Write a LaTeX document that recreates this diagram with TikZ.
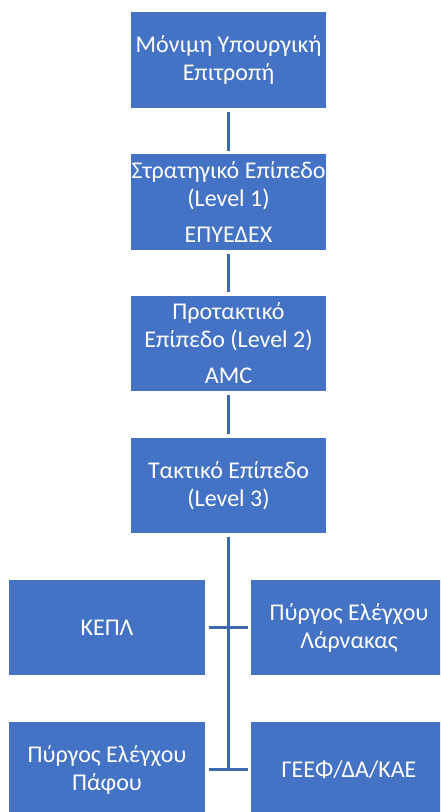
\documentclass[tikz,border=0pt]{standalone}
\usepackage{fontspec}
\setmainfont{Carlito}
\definecolor{boxcol}{RGB}{68,114,196}
\definecolor{linecol}{RGB}{61,103,176}

\begin{document}
\begin{tikzpicture}[x=0.75pt, y=-0.75pt,
    levelbox/.style={draw=white, line width=0.8pt, fill=boxcol, text=white,
        minimum width=147.75pt, minimum height=72.75pt, inner sep=0pt,
        align=center, font=\fontsize{18}{21}\selectfont},
    link/.style={linecol, line width=2pt, shorten <=2pt, shorten >=1.5pt}]

    \useasboundingbox (0,0) rectangle (440,812);
    \clip (0,0) rectangle (440,812);

    % the four levels
    \node[levelbox] (minimi) at (228.5,60) {Μόνιμη Υπουργική\\Επιτροπή};
    \node[levelbox] (strat) at (228.5,202) {Στρατηγικό Επίπεδο\\(Level 1)\\[6pt]ΕΠΥΕΔΕΧ};
    \node[levelbox] (protakt) at (228.5,343.5) {Προτακτικό\\Επίπεδο (Level 2)\\[6pt]AMC};
    \node[levelbox] (takt) at (228.5,485.5) {Τακτικό Επίπεδο\\(Level 3)};

    % units under the tactical level
    \node[levelbox] (kepl) at (107,627.5) {ΚΕΠΛ};
    \node[levelbox] (larnaka) at (349,627.5) {Πύργος Ελέγχου\\Λάρνακας};
    \node[levelbox] (pafos) at (107,769.5) {Πύργος Ελέγχου\\Πάφου};
    \node[levelbox] (geef) at (349,769.5) {ΓΕΕΦ/ΔΑ/ΚΑΕ};

    \coordinate (trunkend) at (228.5,769.5);

    \draw[link] (minimi) -- (strat);
    \draw[link] (strat) -- (protakt);
    \draw[link] (protakt) -- (takt);
    \draw[link, shorten >=0pt] (takt) -- (trunkend);

    \draw[link] (kepl) -- (larnaka);
    \draw[link] (pafos) -- (geef);

\end{tikzpicture}
\end{document}
